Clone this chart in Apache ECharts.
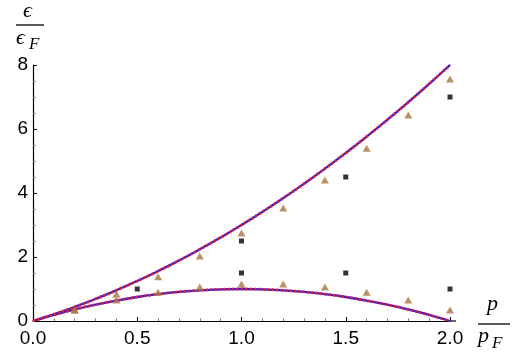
<!DOCTYPE html>
<html>
<head>
<meta charset="utf-8">
<script src="https://cdn.jsdelivr.net/npm/echarts@6/dist/echarts.min.js"></script>
<style>
  html, body { margin: 0; padding: 0; background: #fff; }
  #chart { width: 512px; height: 353px; }
</style>
</head>
<body>
<div id="chart"></div>
<script>
  // momentum samples p/pF for the curves
  const pCurve = [0, 0.1, 0.2, 0.3, 0.4, 0.5, 0.6, 0.7, 0.8, 0.9, 1.0, 1.1, 1.2, 1.3, 1.4, 1.5, 1.6, 1.7, 1.8, 1.9, 2.0];
  const upperCurve = [0, 0.21, 0.44, 0.69, 0.96, 1.25, 1.56, 1.89, 2.24, 2.61, 3.0, 3.41, 3.84, 4.29, 4.76, 5.25, 5.76, 6.29, 6.84, 7.41, 8.0];
  const lowerCurve = [0, 0.19, 0.36, 0.51, 0.64, 0.75, 0.84, 0.91, 0.96, 0.99, 1.0, 0.99, 0.96, 0.91, 0.84, 0.75, 0.64, 0.51, 0.36, 0.19, 0];

  // brown triangles
  const pTri = [0.2, 0.4, 0.6, 0.8, 1.0, 1.2, 1.4, 1.6, 1.8, 2.0];
  const triUpper = [0.34, 0.84, 1.38, 2.03, 2.75, 3.53, 4.41, 5.4, 6.44, 7.56];
  const triLower = [0.34, 0.66, 0.9, 1.06, 1.16, 1.16, 1.06, 0.9, 0.66, 0.34];

  // black squares
  const pSq = [0.5, 1.0, 1.0, 1.5, 1.5, 2.0, 2.0];
  const sqVal = [1.0, 2.5, 1.5, 4.5, 1.5, 7.0, 1.0];

  const zip = (xs, ys) => xs.map((x, i) => [x, ys[i]]);

  const chart = echarts.init(document.getElementById('chart'), null, { renderer: 'canvas' });

  const tickFont = { color: '#000', fontSize: 19, fontFamily: 'Liberation Sans, Arial, sans-serif' };
  const serif = 'Liberation Serif, DejaVu Serif, serif';

  const option = {
    animation: false,
    backgroundColor: '#fff',
    grid: { left: 33, right: 62, top: 65, bottom: 32 },
    xAxis: {
      type: 'value',
      min: 0, max: 2, interval: 0.5,
      axisLine: { lineStyle: { color: '#000', width: 1.2 } },
      axisTick: { inside: true, length: 4, lineStyle: { color: '#000' } },
      minorTick: { show: true, splitNumber: 5, length: 2.5, lineStyle: { color: '#777' } },
      splitLine: { show: false },
      axisLabel: Object.assign({ margin: 8, formatter: v => v.toFixed(1) }, tickFont)
    },
    yAxis: {
      type: 'value',
      min: 0, max: 8, interval: 2,
      axisLine: { show: true, lineStyle: { color: '#000', width: 1.2 } },
      axisTick: { show: true, inside: true, length: 4, lineStyle: { color: '#000' } },
      minorTick: { show: true, splitNumber: 4, length: 2.5, lineStyle: { color: '#777' } },
      splitLine: { show: false },
      axisLabel: Object.assign({ margin: 5 }, tickFont)
    },
    graphic: [
      // x axis runs slightly past 2.0 in the original
      { type: 'line', shape: { x1: 450, y1: 321, x2: 456, y2: 321 }, style: { stroke: '#000', lineWidth: 1.2 } },

      { type: 'text', left: 23, top: 0, style: { text: 'ϵ', font: 'italic 22px ' + serif, fill: '#000' } },
      { type: 'line', shape: { x1: 16, y1: 25, x2: 44, y2: 25 }, style: { stroke: '#000', lineWidth: 1.3 } },
      { type: 'text', left: 16, top: 27, style: { text: 'ϵ', font: 'italic 22px ' + serif, fill: '#000' } },
      { type: 'text', left: 29, top: 36, style: { text: 'F', font: 'italic 17px ' + serif, fill: '#000' } },

      { type: 'text', left: 487, top: 293, style: { text: 'p', font: 'italic 22px ' + serif, fill: '#000' } },
      { type: 'line', shape: { x1: 478, y1: 324, x2: 510, y2: 324 }, style: { stroke: '#000', lineWidth: 1.3 } },
      { type: 'text', left: 478, top: 325, style: { text: 'p', font: 'italic 22px ' + serif, fill: '#000' } },
      { type: 'text', left: 492, top: 335, style: { text: 'F', font: 'italic 17px ' + serif, fill: '#000' } }
    ],
    series: [
      {
        type: 'line', data: zip(pCurve, upperCurve), smooth: true, symbol: 'none',
        lineStyle: { color: '#2222ee', width: 2.3 }, z: 2
      },
      {
        type: 'line', data: zip(pCurve, lowerCurve), smooth: true, symbol: 'none',
        lineStyle: { color: '#2222ee', width: 2.3 }, z: 2
      },
      {
        type: 'line', data: zip(pCurve, upperCurve), smooth: true, symbol: 'none',
        lineStyle: { color: '#ff1a1a', width: 2.8, type: [2, 2.4] }, z: 3
      },
      {
        type: 'line', data: zip(pCurve, lowerCurve), smooth: true, symbol: 'none',
        lineStyle: { color: '#ff1a1a', width: 2.8, type: [2, 2.4] }, z: 3
      },
      {
        type: 'scatter', data: zip(pTri, triUpper).concat(zip(pTri, triLower)),
        symbol: 'triangle', symbolSize: [8, 7],
        itemStyle: { color: '#a8763f' }, z: 4
      },
      {
        type: 'scatter', data: zip(pSq, sqVal),
        symbol: 'rect', symbolSize: 5,
        itemStyle: { color: '#000' }, z: 4
      }
    ]
  };

  chart.setOption(option);
</script>
</body>
</html>
